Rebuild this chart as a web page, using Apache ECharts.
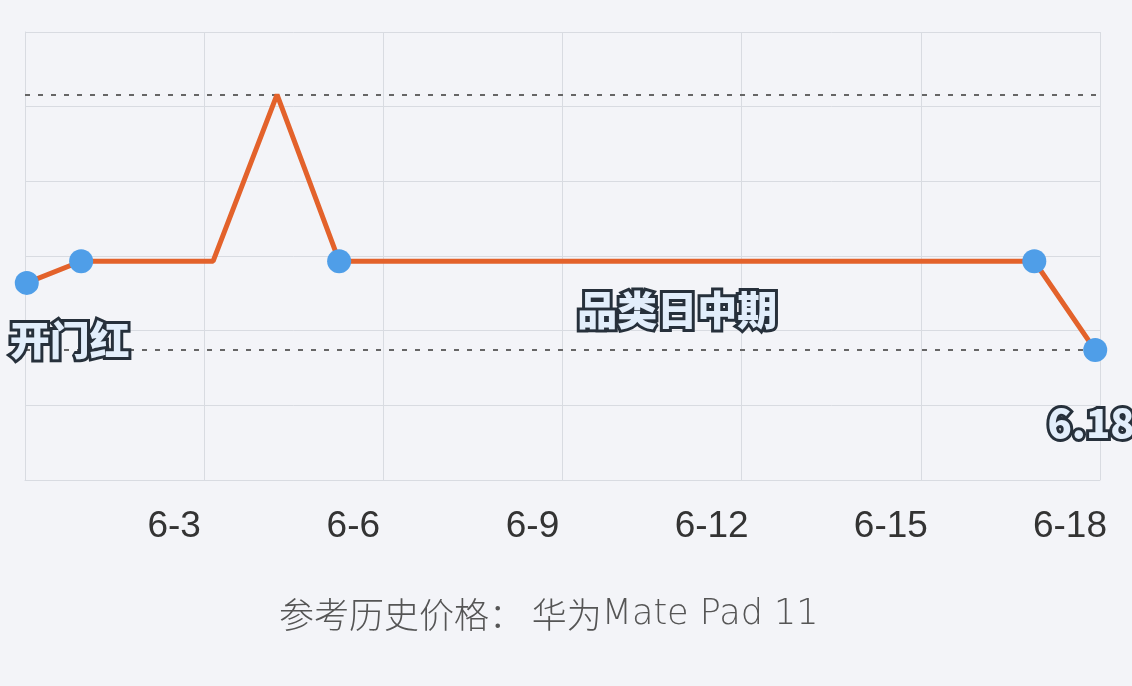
<!DOCTYPE html>
<html>
<head>
<meta charset="utf-8">
<script src="https://cdn.jsdelivr.net/npm/echarts@6/dist/echarts.min.js"></script>
<style>
html,body{margin:0;padding:0;background:#f3f4f8;}
#c{width:1132px;height:686px;}
</style>
</head>
<body>
<div id="c"></div>
<script>
// x positions (axis units, 0..18) and relative price levels (0..6)
const xPos = [0.03, 0.94, 3.15, 4.22, 5.26, 16.9, 17.92];
const priceLevel = [2.64, 2.93, 2.93, 5.16, 2.93, 2.93, 1.74];
const showMarker = [true, true, false, false, true, true, true];
const tickLabels = ['', '6-3', '6-6', '6-9', '6-12', '6-15', '6-18'];
const annotationText = ['开门红', '品类日中期', '6.18'];
const annotationX = [0.75, 10.92, 17.85];
const annotationY = [1.875, 2.28, 0.76];
const captionCn = '参考历史价格： 华为';
const captionEn = 'Mate Pad 11';

const chart = echarts.init(document.getElementById('c'), null, {renderer: 'canvas'});

const seriesData = xPos.map((x, i) => ({
  value: [x, priceLevel[i]],
  symbol: showMarker[i] ? 'circle' : 'none'
}));

const annoStyle = {
  fontFamily: 'Noto Sans CJK SC',
  fontWeight: 900,
  fontSize: 40,
  color: '#e2eefb',
  textBorderColor: '#26303b',
  textBorderWidth: 6
};

chart.setOption({
  backgroundColor: '#f3f4f8',
  animation: false,
  title: {
    text: '{c|' + captionCn + '}{l|' + captionEn + '}',
    left: 274,
    top: 592,
    textStyle: {
      rich: {
        c: {fontFamily: 'Noto Sans CJK SC', fontWeight: 300, fontSize: 35, color: '#555', verticalAlign: 'bottom'},
        l: {fontFamily: 'DejaVu Sans', fontWeight: 200, fontSize: 35, color: '#555', verticalAlign: 'bottom'}
      }
    }
  },
  grid: {left: 25, right: 32, top: 32, bottom: 206, containLabel: false},
  xAxis: {
    type: 'value',
    min: 0, max: 18, interval: 3,
    axisLine: {show: true, lineStyle: {color: '#d8dbe1', width: 1}},
    axisTick: {show: false},
    splitLine: {show: true, lineStyle: {color: '#d8dbe1', width: 1}},
    axisLabel: {
      formatter: v => tickLabels[Math.round(v / 3)] || '',
      fontFamily: 'Liberation Sans',
      fontSize: 37,
      color: '#333',
      margin: 28,
      align: 'center',
      padding: [0, 60, 0, 0]
    }
  },
  yAxis: {
    type: 'value',
    min: 0, max: 6, interval: 1,
    axisLine: {show: true, lineStyle: {color: '#d8dbe1', width: 1}},
    axisTick: {show: false},
    axisLabel: {show: false},
    splitLine: {show: true, lineStyle: {color: '#d8dbe1', width: 1}}
  },
  series: [{
    type: 'line',
    data: seriesData,
    symbolSize: 24,
    showAllSymbol: true,
    lineStyle: {color: '#e3622b', width: 5},
    itemStyle: {color: '#4f9ee8'},
    z: 3,
    markLine: {
      silent: true,
      symbol: 'none',
      label: {show: false},
      lineStyle: {color: '#666', width: 2, type: [5, 8]},
      data: [{type: 'max'}, {type: 'min'}],
      z: 1
    },
    markPoint: {
      silent: true,
      symbol: 'circle',
      symbolSize: 0,
      label: Object.assign({show: true, position: 'inside', formatter: p => p.name}, annoStyle),
      data: annotationText.map((t, i) => ({name: t, coord: [annotationX[i], annotationY[i]]}))
    }
  }]
});
</script>
</body>
</html>
